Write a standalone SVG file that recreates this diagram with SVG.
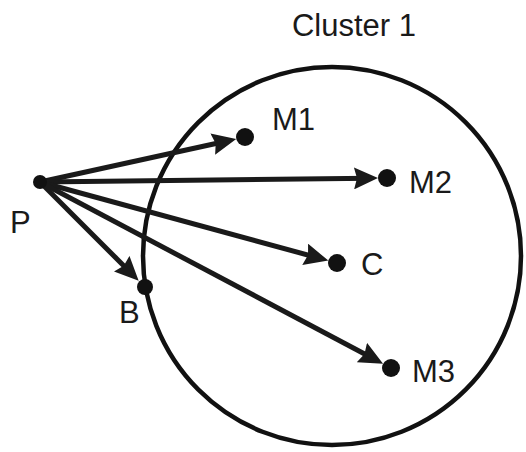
<svg xmlns="http://www.w3.org/2000/svg" width="526" height="452" viewBox="0 0 526 452">
<style>
.lbl{font-family:"Liberation Sans",Arial,sans-serif;font-size:31px;fill:#1a1a1a}
.edge{stroke:#1a1a1a;stroke-width:5;fill:none}
.dot{fill:#111}
</style>
<defs>
<marker id="ah" viewBox="0 0 24 22" refX="16" refY="11" markerWidth="24" markerHeight="22" markerUnits="userSpaceOnUse" orient="auto">
<path d="M0,0 L24,11 L0,22 L3,11 Z" fill="#1a1a1a"/>
</marker>
</defs>
<rect width="526" height="452" fill="#fff"/>
<g id="cluster1">
<circle cx="332" cy="256" r="189" fill="none" stroke="#111" stroke-width="4.5"/>
<text class="lbl" x="354" y="36" text-anchor="middle" font-size="33">Cluster 1</text>
</g>
<g id="edges">
<line class="edge" x1="40" y1="182" x2="228.4" y2="140.7" marker-end="url(#ah)"/>
<line class="edge" x1="40" y1="182" x2="370" y2="178.2" marker-end="url(#ah)"/>
<line class="edge" x1="40" y1="182" x2="320.6" y2="258.5" marker-end="url(#ah)"/>
<line class="edge" x1="40" y1="182" x2="376" y2="360" marker-end="url(#ah)"/>
<line class="edge" x1="40" y1="182" x2="133" y2="275" marker-end="url(#ah)"/>
</g>
<g id="P"><circle class="dot" cx="40" cy="182" r="7"/><text class="lbl" x="10" y="233">P</text></g>
<g id="M1"><circle class="dot" cx="245" cy="137" r="9"/><text class="lbl" x="272" y="130">M1</text></g>
<g id="M2"><circle class="dot" cx="387" cy="178" r="9"/><text class="lbl" x="409" y="193">M2</text></g>
<g id="C"><circle class="dot" cx="337" cy="263" r="9"/><text class="lbl" x="361" y="275">C</text></g>
<g id="M3"><circle class="dot" cx="391" cy="368" r="9"/><text class="lbl" x="412" y="382">M3</text></g>
<g id="B"><circle class="dot" cx="145" cy="287" r="8"/><text class="lbl" x="119" y="323">B</text></g>
</svg>
